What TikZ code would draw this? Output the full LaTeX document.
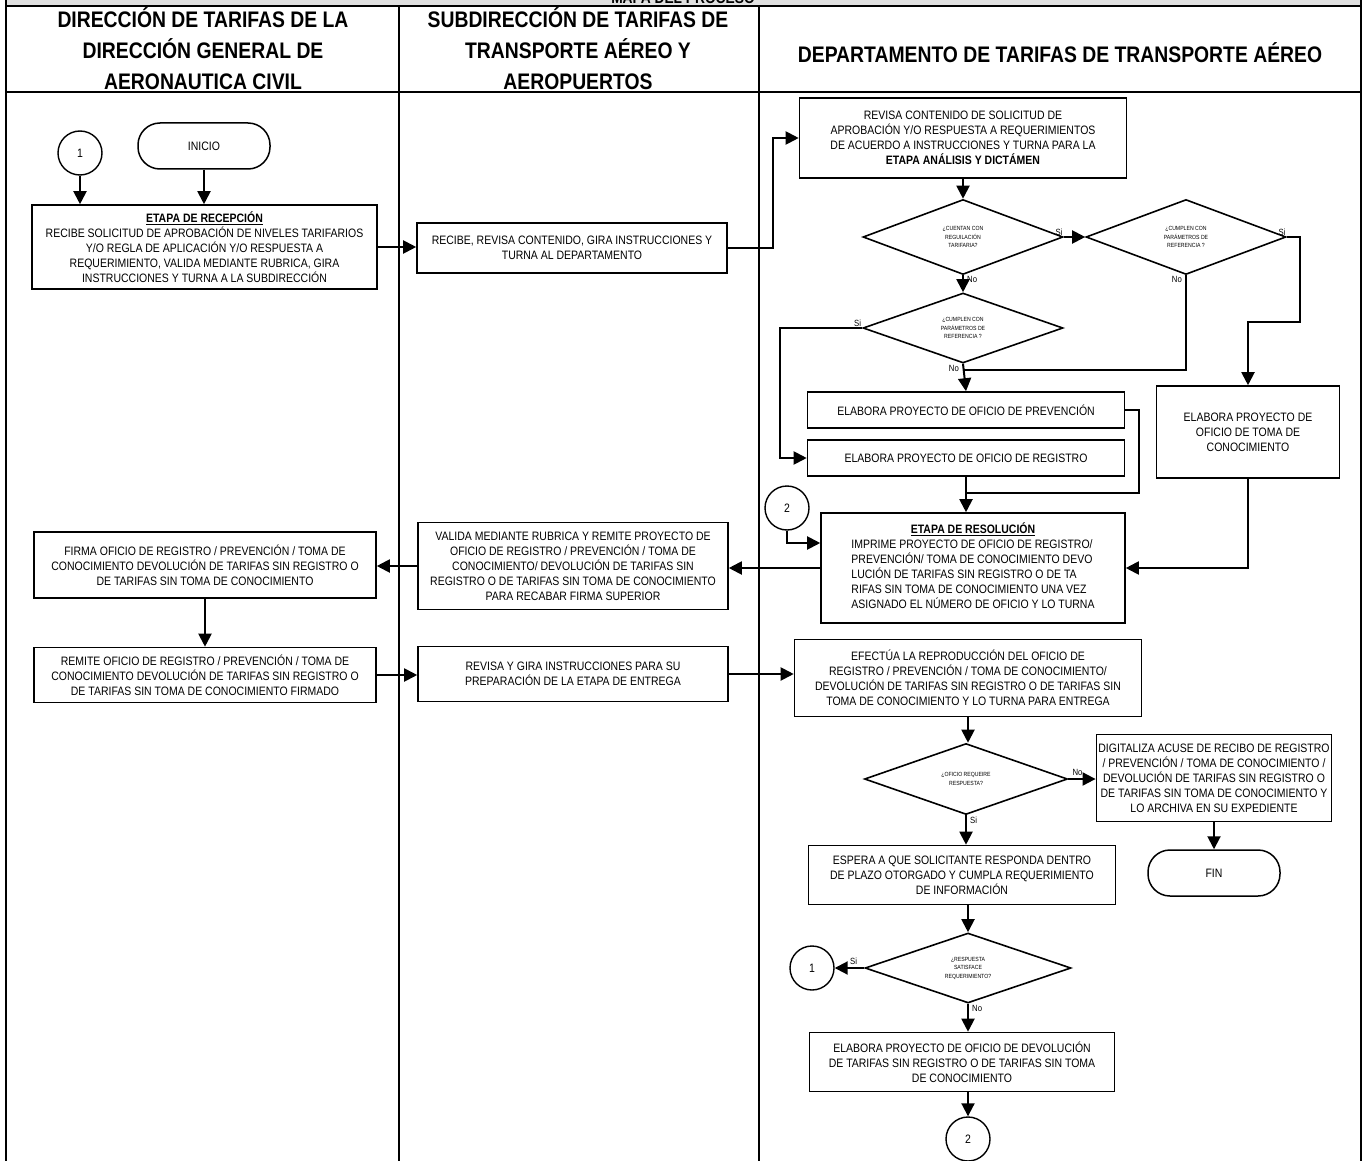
\documentclass[tikz,border=0pt]{standalone}
\usepackage{fontspec}
\setmainfont{Liberation Sans}[FakeStretch=0.86]
\usetikzlibrary{shapes.geometric,arrows.meta}

\newcommand{\boxfont}{\fontsize{12.2}{15}\selectfont}
\newcommand{\qfont}{\fontsize{6}{8.5}\selectfont}
\newcommand{\hdrfont}{\fontsize{22.5}{31}\selectfont\bfseries}

\tikzset{
  proc/.style={draw, line width=1.6pt, align=center, inner sep=2pt, font=\boxfont},
  term/.style={draw, line width=1.5pt, rounded corners=22pt, minimum width=132pt, minimum height=46pt, font=\boxfont},
  conn/.style={draw, circle, line width=1.4pt, minimum size=44pt, inner sep=0pt, font=\boxfont},
  dec/.style={draw, diamond, line width=1.6pt, inner sep=0pt, align=center, font=\qfont},
  flow/.style={line width=2pt, -{Triangle[length=13pt,width=13pt]}},
  line/.style={line width=2pt},
  yn/.style={font=\fontsize{9}{10}\selectfont, inner sep=1pt},
  hdr/.style={align=center, font=\hdrfont},
}

\begin{document}
\begin{tikzpicture}[x=1pt,y=-1pt]

\useasboundingbox (0,0) rectangle (1365,1161);
\clip (0,0) rectangle (1365,1161);

%% frame and lanes
\fill[black!12] (6,-2) rectangle (1361,6);
\node[font=\fontsize{16}{16}\selectfont\bfseries, anchor=base] (titulo) at (683,4) {MAPA DEL PROCESO};
\draw[line width=2pt] (6,6) -- (1361,6);
\draw[line width=1.5pt] (6,0) -- (6,1170);
\draw[line width=1.5pt] (1361,0) -- (1361,1170);
\draw[line width=2.6pt] (6,92) -- (1361,92);
\draw[line width=1.3pt] (399,6) -- (399,1170);
\draw[line width=1.3pt] (759,6) -- (759,1170);

%% lane titles
\node[hdr] (h1) at (203,49) {DIRECCIÓN DE TARIFAS DE LA\\DIRECCIÓN GENERAL DE\\AERONAUTICA CIVIL};
\node[hdr] (h2) at (578,49) {SUBDIRECCIÓN DE TARIFAS DE\\TRANSPORTE AÉREO Y\\AEROPUERTOS};
\node[hdr] (h3) at (1060,53) {DEPARTAMENTO DE TARIFAS DE TRANSPORTE AÉREO};

%% direccion
\node[conn] (c1a) at (80,153) {1};
\node[term] (inicio) at (204,146) {INICIO};
\node[proc, minimum width=345pt, minimum height=84pt] (recep) at (204.5,247)
  {\underline{\textbf{ETAPA DE RECEPCIÓN}}\\RECIBE SOLICITUD DE APROBACIÓN DE NIVELES TARIFARIOS\\Y/O REGLA DE APLICACIÓN Y/O RESPUESTA A\\REQUERIMIENTO, VALIDA MEDIANTE RUBRICA, GIRA\\INSTRUCCIONES Y TURNA A LA SUBDIRECCIÓN};
\node[proc, minimum width=342pt, minimum height=66pt] (firma) at (205,565)
  {FIRMA OFICIO DE REGISTRO / PREVENCIÓN / TOMA DE\\CONOCIMIENTO DEVOLUCIÓN DE TARIFAS SIN REGISTRO O\\DE TARIFAS SIN TOMA DE CONOCIMIENTO};
\node[proc, minimum width=342pt, minimum height=55pt] (remite) at (205,675)
  {REMITE OFICIO DE REGISTRO / PREVENCIÓN / TOMA DE\\CONOCIMIENTO DEVOLUCIÓN DE TARIFAS SIN REGISTRO O\\DE TARIFAS SIN TOMA DE CONOCIMIENTO FIRMADO};

%% subdireccion
\node[proc, minimum width=310pt, minimum height=50pt] (recibe) at (572,248)
  {RECIBE, REVISA CONTENIDO, GIRA INSTRUCCIONES Y\\TURNA AL DEPARTAMENTO};
\node[proc, minimum width=310pt, minimum height=87pt] (valida) at (573,566)
  {VALIDA MEDIANTE RUBRICA Y REMITE PROYECTO DE\\OFICIO DE REGISTRO / PREVENCIÓN / TOMA DE\\CONOCIMIENTO/ DEVOLUCIÓN DE TARIFAS SIN\\REGISTRO O DE TARIFAS SIN TOMA DE CONOCIMIENTO\\PARA RECABAR FIRMA SUPERIOR};
\node[proc, minimum width=310pt, minimum height=55pt] (revgira) at (573,674)
  {REVISA Y GIRA INSTRUCCIONES PARA SU\\PREPARACIÓN DE LA ETAPA DE ENTREGA};

%% departamento
\node[proc, minimum width=327pt, minimum height=80pt] (revisa) at (963,138)
  {REVISA CONTENIDO DE SOLICITUD DE\\APROBACIÓN Y/O RESPUESTA A REQUERIMIENTOS\\DE ACUERDO A INSTRUCCIONES Y TURNA PARA LA\\\textbf{ETAPA ANÁLISIS Y DICTÁMEN}};
\node[dec, minimum width=200pt, minimum height=75pt] (d1) at (963,237) {¿CUENTAN CON\\REGUILACIÓN\\TARIFARIA?};
\node[dec, minimum width=200pt, minimum height=75pt] (d2) at (1186,237) {¿CUMPLEN CON\\PARÁMETROS DE\\REFERENCIA ?};
\node[dec, minimum width=200pt, minimum height=70pt] (d3) at (963,328) {¿CUMPLEN CON\\PARÁMETROS DE\\REFERENCIA ?};
\node[proc, minimum width=317pt, minimum height=36pt] (prev) at (966,410) {ELABORA PROYECTO DE OFICIO DE PREVENCIÓN};
\node[proc, minimum width=317pt, minimum height=36pt] (reg) at (966,458) {ELABORA PROYECTO DE OFICIO DE REGISTRO};
\node[proc, minimum width=183pt, minimum height=92pt] (toma) at (1248,432) {ELABORA PROYECTO DE\\OFICIO DE TOMA DE\\CONOCIMIENTO};
\node[conn] (c2a) at (787,508) {2};
\node[proc, minimum width=304pt, minimum height=110pt] (resol) at (973,568)
  {\begin{tabular}{@{}l@{}}\multicolumn{1}{@{}c@{}}{\underline{\textbf{ETAPA DE RESOLUCIÓN}}}\\
   IMPRIME PROYECTO DE OFICIO DE REGISTRO/\\PREVENCIÓN/ TOMA DE CONOCIMIENTO DEVO\\LUCIÓN DE TARIFAS SIN REGISTRO O DE TA\\RIFAS SIN TOMA DE CONOCIMIENTO UNA VEZ\\ASIGNADO EL NÚMERO DE OFICIO Y LO TURNA\end{tabular}};
\node[proc, minimum width=347pt, minimum height=77pt] (efect) at (968,678)
  {EFECTÚA LA REPRODUCCIÓN DEL OFICIO DE\\REGISTRO / PREVENCIÓN / TOMA DE CONOCIMIENTO/\\DEVOLUCIÓN DE TARIFAS SIN REGISTRO O DE TARIFAS SIN\\TOMA DE CONOCIMIENTO Y LO TURNA PARA ENTREGA};
\node[dec, minimum width=203pt, minimum height=71pt] (d4) at (966,779) {¿OFICIO REQUEIRE\\RESPUESTA?};
\node[proc, minimum width=232pt, minimum height=87pt] (digit) at (1214,778)
  {DIGITALIZA ACUSE DE RECIBO DE REGISTRO\\/ PREVENCIÓN / TOMA DE CONOCIMIENTO /\\DEVOLUCIÓN DE TARIFAS SIN REGISTRO O\\DE TARIFAS SIN TOMA DE CONOCIMIENTO Y\\LO ARCHIVA EN SU EXPEDIENTE};
\node[term] (fin) at (1214,873) {FIN};
\node[proc, minimum width=307pt, minimum height=59pt] (espera) at (962,875)
  {ESPERA A QUE SOLICITANTE RESPONDA DENTRO\\DE PLAZO OTORGADO Y CUMPLA REQUERIMIENTO\\DE INFORMACIÓN};
\node[dec, minimum width=206pt, minimum height=70pt] (d5) at (968,968) {¿RESPUESTA\\SATISFACE\\REQUERIMIENTO?};
\node[conn] (c1b) at (812,968) {1};
\node[proc, minimum width=305pt, minimum height=59pt] (devol) at (962,1062)
  {ELABORA PROYECTO DE OFICIO DE DEVOLUCIÓN\\DE TARIFAS SIN REGISTRO O DE TARIFAS SIN TOMA\\DE CONOCIMIENTO};
\node[conn] (c2b) at (968,1139) {2};

%% flows
\draw[flow] (c1a.south) -- (c1a.south |- recep.north);
\draw[flow] (inicio.south) -- (inicio.south |- recep.north);
\draw[flow] (recep.east) -- (recep.east -| recibe.west);
\draw[flow] (recibe.east) -- ++(45,0) |- (revisa.west);
\draw[flow] (revisa.south) -- (d1.north);
\draw[flow] (d1.east) -- (d2.west);
\draw[flow] (d1.south) -- (d3.north);
\draw[flow] (d2.east) -- ++(13,0) -- ++(0,85) -| (toma.north);
\draw[line] (d2.south) |- ([yshift=-6pt]d3.south);
\draw[flow] (d3.south) -- (prev.north);
\draw[flow] (d3.west) -- ++(-82,0) |- (reg.west);
\draw[line] (prev.east) -- ++(14,0) |- ([yshift=-16pt]reg.south);
\draw[flow] (reg.south) -- (reg.south |- resol.north);
\draw[flow] (toma.south) |- (resol.east);
\draw[flow] (c2a.south) |- ([yshift=25pt]resol.west);
\draw[flow] (resol.west) -- (resol.west -| valida.east);
\draw[flow] (valida.west) -- (valida.west -| firma.east);
\draw[flow] (firma.south) -- (remite.north);
\draw[flow] (remite.east) -- (remite.east -| revgira.west);
\draw[flow] (revgira.east) -- (revgira.east -| efect.west);
\draw[flow] (efect.south) -- (efect.south |- d4.north);
\draw[flow] (d4.east) -- (d4.east -| digit.west);
\draw[flow] (digit.south) -- (fin.north);
\draw[flow] (d4.south) -- (d4.south |- espera.north);
\draw[flow] (espera.south -| d5.north) -- (d5.north);
\draw[flow] (d5.west) -- (c1b.east);
\draw[flow] (d5.south) -- (d5.south |- devol.north);
\draw[flow] (devol.south -| c2b.north) -- (c2b.north);

%% answers
\node[yn, anchor=south east] (si1) at (d1.east) {Si};
\node[yn, anchor=north west] (no1) at ([xshift=3pt]d1.south) {No};
\node[yn, anchor=south east] (si2) at (d2.east) {Si};
\node[yn, anchor=north east] (no2) at ([xshift=-3pt]d2.south) {No};
\node[yn, anchor=south east] (si3) at (d3.west) {Si};
\node[yn, anchor=north east] (no3) at ([xshift=-3pt]d3.south) {No};
\node[yn, anchor=south west] (no4) at ([xshift=3pt,yshift=2pt]d4.east) {No};
\node[yn, anchor=north west] (si4) at ([xshift=3pt]d4.south) {Si};
\node[yn, anchor=south east] (si5) at ([xshift=-6pt,yshift=2pt]d5.west) {Si};
\node[yn, anchor=north west] (no5) at ([xshift=3pt]d5.south) {No};

\end{tikzpicture}
\end{document}
